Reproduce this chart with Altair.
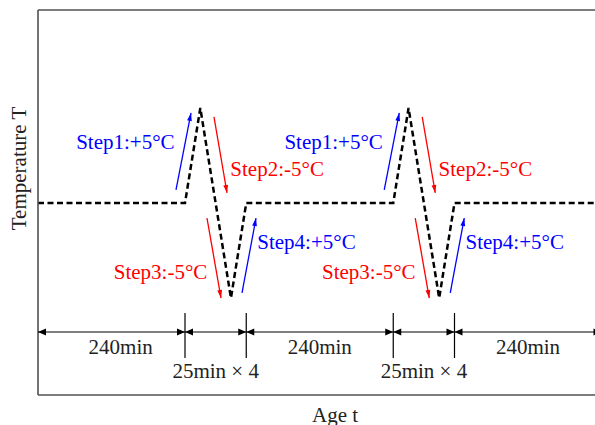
import math
import altair as alt
import pandas as pd

# ---------------- data ----------------
time_min = [0, 240, 265, 315, 340, 580, 605, 655, 680, 920]
temp_offset = [0, 0, 5, -5, 0, 0, 5, -5, 0, 0]
cycle_starts = [240, 580]
step_names = ["Step1:+5°C", "Step2:-5°C", "Step3:-5°C", "Step4:+5°C"]
segment_edges = [0, 240, 340, 580, 680, 920]
segment_texts = ["240min", "25min × 4", "240min", "25min × 4", "240min"]
segment_text_t = [135, 290, 460, 630, 800]
x_title = "Age t"
y_title = "Temperature T"

# ---------------- layout ----------------
LEFT, TOP, W, H, BOTTOM = 38, 10, 557, 385, 30
PX_PER_MIN = 0.6125
PX_PER_DEG = 19.0
Y_TOP = 10.16
X_DOM = [0, W / PX_PER_MIN]
Y_DOM = [Y_TOP - H / PX_PER_DEG, Y_TOP]
FONT = "Liberation Serif"
FS = 21
BLUE, RED = "#0000ff", "#ff0000"


def t_of(px):
    return (px - LEFT) / PX_PER_MIN


def T_of(py):
    return Y_TOP - (py - TOP) / PX_PER_DEG


xs = alt.Scale(domain=X_DOM, nice=False, zero=False)
ys = alt.Scale(domain=Y_DOM, nice=False, zero=False)

# step arrows relative to cycle start: (t0, T0, t1, T1, color, label_dt, label_T, align)
step_geom = [
    (-14.7, 0.69, 9.8, 4.74, BLUE, -17, 3.16, "right"),
    (47.3, 4.53, 68.6, 0.53, RED, 74, 1.74, "left"),
    (35.9, -0.79, 58.8, -5.0, RED, 36.5, -3.68, "right"),
    (93.1, -4.73, 115.9, -0.79, BLUE, 118, -2.1, "left"),
]

rows = []
for c in cycle_starts:
    for name, g in zip(step_names, step_geom):
        t0, T0, t1, T1, col, ldt, lT, al = g
        dx = (t1 - t0) * PX_PER_MIN
        dy = (T1 - T0) * PX_PER_DEG
        ang = math.degrees(math.atan2(dx, dy)) % 360
        rows.append(dict(x0=c + t0, y0=T0, x1=c + t1, y1=T1, col=col, ang=ang,
                         label=name, lx=c + ldt, ly=lT, align=al))
arrows = pd.DataFrame(rows)

main = pd.DataFrame({"t": time_min, "T": temp_offset})

# dimension line
T_DIM = T_of(332)
T_TICK_A = T_of(313)
T_TICK_B = T_of(358)
T_LAB1 = T_of(348)
T_LAB2 = T_of(372)

heads = []
for a, b in zip(segment_edges[:-1], segment_edges[1:]):
    heads.append(dict(t=a, T=T_DIM, ang=270))
    heads.append(dict(t=b, T=T_DIM, ang=90))
heads = pd.DataFrame(heads)
ticks = pd.DataFrame({"t": segment_edges[1:-1]})
seg_lab = pd.DataFrame({"t": segment_text_t, "txt": segment_texts,
                        "T": [T_LAB1 if s == "240min" else T_LAB2 for s in segment_texts]})

titles = pd.DataFrame({"t": [t_of(335), t_of(19.5)], "T": [T_of(416), T_of(168.5)],
                       "txt": [x_title, y_title], "ang": [0, 270]})

ARROW_THIN = "M0,0 L0.6,2 L-0.6,2 Z"
ARROW_WIDE = "M0,0 L0.85,2 L-0.85,2 Z"

blank_axis = alt.Axis(title="", labels=False, ticks=False, domain=False, grid=False)
X = lambda f: alt.X(f, scale=xs, axis=None)
Y = lambda f: alt.Y(f, scale=ys, axis=None)

line = alt.Chart(main).mark_line(color="black", strokeWidth=2.5, strokeDash=[6, 3.5], clip=True).encode(
    x=alt.X("t:Q", scale=xs, axis=blank_axis), y=alt.Y("T:Q", scale=ys, axis=blank_axis))

frame_h = alt.Chart(pd.DataFrame({"T": [Y_DOM[0], Y_DOM[1]]})).mark_rule(
    color="#505050", strokeWidth=1.6).encode(y=Y("T:Q"))
frame_v = alt.Chart(pd.DataFrame({"t": [0]})).mark_rule(
    color="#505050", strokeWidth=1.6).encode(x=X("t:Q"))

dim_line = alt.Chart(pd.DataFrame({"T": [T_DIM]})).mark_rule(color="black", strokeWidth=1.2).encode(
    y=Y("T:Q"))
dim_ticks = alt.Chart(ticks).mark_rule(color="black", strokeWidth=1.2).encode(
    x=X("t:Q"), y=alt.datum(T_TICK_A), y2=alt.datum(T_TICK_B))
dim_heads = alt.Chart(heads).mark_point(shape=ARROW_WIDE, filled=True, size=64, opacity=1,
                                        strokeWidth=0, color="black", clip=True).encode(
    x=X("t:Q"), y=Y("T:Q"), angle=alt.Angle("ang:Q", scale=None))
dim_text = alt.Chart(seg_lab).mark_text(font=FONT, fontSize=FS, color="#222222", align="center",
                                        baseline="middle").encode(
    x=X("t:Q"), y=Y("T:Q"), text="txt:N")

arr_lines = alt.Chart(arrows).mark_rule(strokeWidth=1.3).encode(
    x=X("x0:Q"), y=Y("y0:Q"), x2="x1:Q", y2="y1:Q", color=alt.Color("col:N", scale=None))
arr_heads = alt.Chart(arrows).mark_point(shape=ARROW_THIN, filled=True, size=64, opacity=1,
                                         strokeWidth=0).encode(
    x=X("x1:Q"), y=Y("y1:Q"), angle=alt.Angle("ang:Q", scale=None),
    color=alt.Color("col:N", scale=None))
txt_r = alt.Chart(arrows).transform_filter(alt.datum.align == "right").mark_text(
    font=FONT, fontSize=FS, align="right", baseline="middle").encode(
    x=X("lx:Q"), y=Y("ly:Q"), text="label:N", color=alt.Color("col:N", scale=None))
txt_l = alt.Chart(arrows).transform_filter(alt.datum.align == "left").mark_text(
    font=FONT, fontSize=FS, align="left", baseline="middle").encode(
    x=X("lx:Q"), y=Y("ly:Q"), text="label:N", color=alt.Color("col:N", scale=None))
title_text = alt.Chart(titles).mark_text(font=FONT, fontSize=FS, color="#222222", align="center",
                                         baseline="middle").encode(
    x=X("t:Q"), y=Y("T:Q"), text="txt:N", angle=alt.Angle("ang:Q", scale=None))

chart = alt.layer(
    line, frame_h, frame_v, dim_line, dim_ticks, dim_heads, dim_text,
    arr_lines, arr_heads, txt_r, txt_l, title_text
).properties(
    width=W, height=H,
    autosize=alt.AutoSizeParams(type="none"),
    padding={"left": LEFT, "top": TOP, "right": 0, "bottom": BOTTOM},
    background="white",
).configure_view(strokeWidth=0)

chart.save("out.html", embed_options={"renderer": "svg", "actions": False})
